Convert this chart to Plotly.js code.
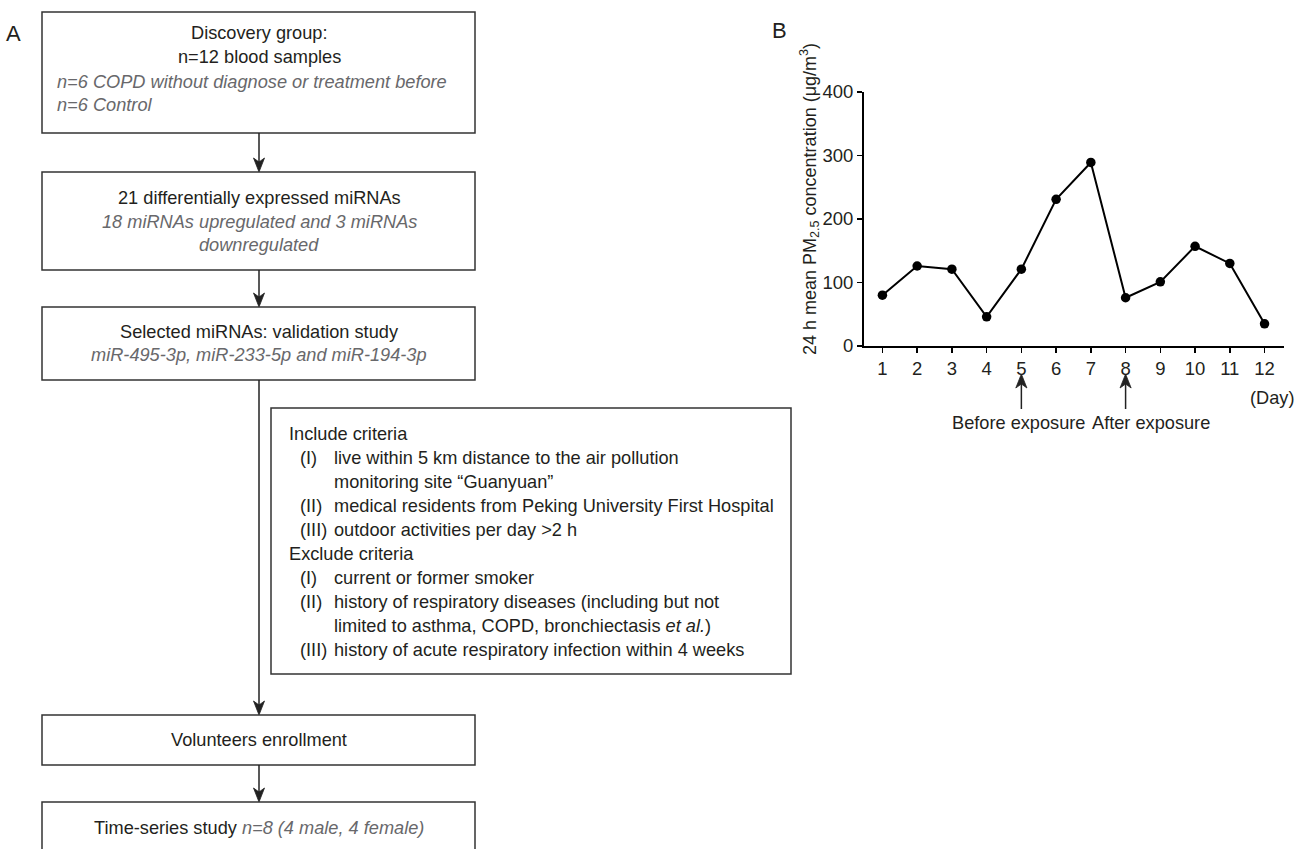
<!DOCTYPE html>
<html>
<head>
<meta charset="utf-8">
<script src="https://cdn.plot.ly/plotly-3.0.1.min.js"></script>
<style>html,body{margin:0;padding:0;background:#fff;}#chart{width:1300px;height:849px;}</style>
</head>
<body>
<div id="chart"></div>
<script>
// ---- Data (panel B) ----
const days = [1, 2, 3, 4, 5, 6, 7, 8, 9, 10, 11, 12];
const pm25 = [80, 126, 121, 46, 121, 231, 289, 76, 101, 157, 130, 35];
const yTicks = [0, 100, 200, 300, 400];
const exposureDays = [5, 8];
const exposureLabels = ['Before exposure', 'After exposure'];
const yTitle = '24 h mean PM<sub>2.5</sub> concentration (μg/m<sup>3</sup>)';
const xUnit = '(Day)';

// ---- Flowchart text (panel A) ----
const box1Lines = ['Discovery group:', 'n=12 blood samples'];
const box1Italic = ['n=6 COPD without diagnose or treatment before', 'n=6 Control'];
const box2Lines = ['21 differentially expressed miRNAs'];
const box2Italic = ['18 miRNAs upregulated and 3 miRNAs', 'downregulated'];
const box3Lines = ['Selected miRNAs: validation study'];
const box3Italic = ['miR-495-3p, miR-233-5p and miR-194-3p'];
const criteriaHeads = ['Include criteria', 'Exclude criteria'];
const includeNums = ['(I)', '', '(II)', '(III)'];
const includeText = ['live within 5 km distance to the air pollution', 'monitoring site “Guanyuan”',
  'medical residents from Peking University First Hospital', 'outdoor activities per day &gt;2 h'];
const excludeNums = ['(I)', '(II)', '', '(III)'];
const excludeText = ['current or former smoker', 'history of respiratory diseases (including but not',
  'limited to asthma, COPD, bronchiectasis <i>et al.</i>)', 'history of acute respiratory infection within 4 weeks'];
const box5Text = 'Volunteers enrollment';
const box6Text = 'Time-series study';
const box6Italic = 'n=8 (4 male, 4 female)';

// ---- helpers ----
const W = 1300, H = 849;
const px = x => x / W;
const py = y => 1 - y / H;
const FONT = 'Liberation Sans, Arial, Helvetica, sans-serif';
const DARK = '#231f20';
const GRAY = '#68686b';
const FS = 18.2;

const annotations = [];
const shapes = [];

function txt(x, y, text, opts = {}) {
  annotations.push(Object.assign({
    xref: 'paper', yref: 'paper', x: px(x), y: py(y), text: text, showarrow: false,
    xanchor: 'center', yanchor: 'middle',
    font: {family: FONT, size: FS, color: DARK}
  }, opts));
}
function box(x0, y0, x1, y1) {
  shapes.push({type: 'rect', xref: 'paper', yref: 'paper', x0: px(x0), x1: px(x1), y0: py(y1), y1: py(y0),
    line: {color: '#333333', width: 1.5}, fillcolor: 'rgba(0,0,0,0)'});
}
// downward arrow (flowchart), pixel coordinates converted to paper
function vArrow(x, yTail, yTip) {
  shapes.push({type: 'line', xref: 'paper', yref: 'paper', x0: px(x), x1: px(x), y0: py(yTail), y1: py(yTip - 6),
    line: {color: '#222', width: 1.5}});
  const p = [[x, yTip], [x - 5.5, yTip - 14], [x, yTip - 10], [x + 5.5, yTip - 14]];
  shapes.push({type: 'path', xref: 'paper', yref: 'paper',
    path: 'M' + p.map(q => px(q[0]) + ',' + py(q[1])).join(' L') + ' Z',
    fillcolor: '#222', line: {color: '#222', width: 0.8}});
}

// Panel labels
txt(13, 34, 'A', {font: {family: FONT, size: 22, color: DARK}});
txt(779, 30, 'B', {font: {family: FONT, size: 22, color: DARK}});

// Box 1
box(42, 12, 475, 133);
txt(259, 33, box1Lines[0]);
txt(259, 57, box1Lines[1]);
txt(55, 82, '<i>' + box1Italic[0] + '</i>', {xanchor: 'left', font: {family: FONT, size: FS, color: GRAY}});
txt(55, 105, '<i>' + box1Italic[1] + '</i>', {xanchor: 'left', font: {family: FONT, size: FS, color: GRAY}});
vArrow(259, 133, 172);

// Box 2
box(42, 172, 475, 270);
txt(259, 198, box2Lines[0]);
txt(259, 222, '<i>' + box2Italic[0] + '</i>', {font: {family: FONT, size: FS, color: GRAY}});
txt(259, 245, '<i>' + box2Italic[1] + '</i>', {font: {family: FONT, size: FS, color: GRAY}});
vArrow(259, 270, 307);

// Box 3
box(42, 307, 475, 380);
txt(259, 332, box3Lines[0]);
txt(259, 355, '<i>' + box3Italic[0] + '</i>', {font: {family: FONT, size: FS, color: GRAY}});
vArrow(259, 380, 715);

// Box 4 (criteria)
box(271, 408, 791, 674);
const lineY0 = 434, lineStep = 24;
txt(287, lineY0, criteriaHeads[0], {xanchor: 'left'});
includeNums.forEach((n, i) => {
  const y = lineY0 + lineStep * (i + 1);
  if (n) txt(298, y, n, {xanchor: 'left'});
  txt(332, y, includeText[i], {xanchor: 'left'});
});
txt(287, lineY0 + lineStep * 5, criteriaHeads[1], {xanchor: 'left'});
excludeNums.forEach((n, i) => {
  const y = lineY0 + lineStep * (i + 6);
  if (n) txt(298, y, n, {xanchor: 'left'});
  txt(332, y, excludeText[i], {xanchor: 'left'});
});

// Box 5
box(42, 715, 475, 765);
txt(259, 740, box5Text);
vArrow(259, 765, 802);

// Box 6
box(42, 802, 475, 860);
txt(259, 828, box6Text + ' <i><span style="color:' + GRAY + '">' + box6Italic + '</span></i>');

// Panel B extras
annotations.push({xref: 'paper', yref: 'paper', x: px(809), y: py(199), text: yTitle, showarrow: false,
  textangle: -90, xanchor: 'center', yanchor: 'middle', font: {family: FONT, size: 18, color: DARK}});
txt(1272, 398, xUnit);
// exposure arrows (pointing up to the day tick), x in data units
const headHalf = 0.16;
exposureDays.forEach(d => {
  shapes.push({type: 'line', xref: 'x', yref: 'paper', x0: d, x1: d, y0: py(409), y1: py(380),
    line: {color: '#222', width: 1.5}});
  shapes.push({type: 'path', xref: 'x', yref: 'paper',
    path: 'M' + d + ',' + py(374) + ' L' + (d - headHalf) + ',' + py(388) + ' L' + d + ',' + py(384) +
          ' L' + (d + headHalf) + ',' + py(388) + ' Z',
    fillcolor: '#222', line: {color: '#222', width: 0.8}});
});
txt(950, 423, exposureLabels[0], {xanchor: 'left'});
txt(1090, 423, exposureLabels[1], {xanchor: 'left'});

const trace = {
  x: days, y: pm25, type: 'scatter', mode: 'lines+markers',
  line: {color: '#000', width: 2},
  marker: {color: '#000', size: 9.5},
  hoverinfo: 'x+y', showlegend: false
};

const layout = {
  width: W, height: H,
  margin: {l: 0, r: 0, t: 0, b: 0},
  paper_bgcolor: '#fff', plot_bgcolor: 'rgba(0,0,0,0)',
  showlegend: false,
  xaxis: {
    domain: [px(864), px(1284)], range: [0.47, 12.56],
    tickvals: days, ticktext: days.map(String),
    ticks: 'outside', ticklen: 5, tickwidth: 1.5, tickcolor: '#000',
    showline: true, linewidth: 2, linecolor: '#000',
    showgrid: false, zeroline: false,
    tickfont: {family: FONT, size: 18.5, color: DARK}, fixedrange: true
  },
  yaxis: {
    domain: [py(346), py(92)], range: [0, 400],
    tickvals: yTicks,
    ticks: 'outside', ticklen: 5, tickwidth: 1.5, tickcolor: '#000',
    showline: true, linewidth: 2, linecolor: '#000',
    showgrid: false, zeroline: false,
    tickfont: {family: FONT, size: 18.5, color: DARK}, fixedrange: true
  },
  shapes: shapes,
  annotations: annotations
};

Plotly.newPlot('chart', [trace], layout, {displayModeBar: false, staticPlot: true});
</script>
</body>
</html>
